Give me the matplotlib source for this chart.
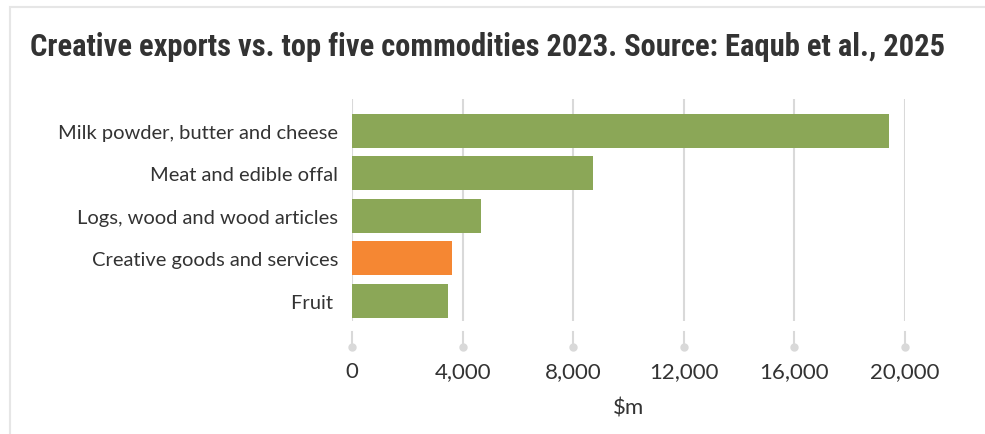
import matplotlib.pyplot as plt
from matplotlib.patches import Rectangle
import matplotlib.transforms as mtransforms

categories = [
    "Milk powder, butter and cheese",
    "Meat and edible offal",
    "Logs, wood and wood articles",
    "Creative goods and services",
    "Fruit ",
]
values = [19420, 8720, 4670, 3620, 3470]
highlight = "Creative goods and services"
x_ticks = [0, 4000, 8000, 12000, 16000, 20000]

GREEN = "#8ba757"
ORANGE = "#f58733"
TEXT = "#333333"
GRID = "#d9d9d9"


def main() -> None:
    plt.rcParams["font.family"] = ["Lato", "DejaVu Sans"]
    fig = plt.figure(figsize=(9.85, 4.35), dpi=100)

    # faint frame like the web card
    fig.patches.append(Rectangle((10 / 985, -0.01), 1.0, 1 - 8 / 435 + 0.01,
                                 transform=fig.transFigure, fill=False,
                                 edgecolor="#e6e6e6", linewidth=1.5))

    fig.text(30 / 985, 1 - 47 / 435,
             "Creative exports vs. top five commodities 2023. Source: Eaqub et al., 2025",
             fontsize=22, fontweight="bold", color=TEXT, va="center",
             family=["Roboto Condensed", "Roboto", "DejaVu Sans"], fontstretch="condensed")

    ax = fig.add_axes([352 / 985, 1 - 322 / 435, (905 - 352) / 985, 222 / 435])
    ys = list(range(len(categories)))
    colors = [ORANGE if c == highlight else GREEN for c in categories]
    ax.barh(ys, values, height=0.8, color=colors, zorder=3)

    ax.set_xlim(0, 20000)
    ax.set_ylim(4.47, -0.75)
    ax.set_yticks(ys)
    ax.set_yticklabels(categories, fontsize=14.5, color=TEXT)
    ax.tick_params(axis="y", length=0, pad=10)

    ax.set_xticks(x_ticks)
    ax.set_xticklabels([f"{t:,}" for t in x_ticks], fontsize=16, color=TEXT)
    ax.tick_params(axis="x", length=0, pad=29)
    ax.grid(axis="x", color=GRID, linewidth=1.5, zorder=0)
    for s in ax.spines.values():
        s.set_visible(False)

    # tick stubs with round ends
    trans = mtransforms.blended_transform_factory(ax.transData, ax.transAxes)
    for t in x_ticks:
        ax.plot([t, t], [-0.05, -0.115], color=GRID, linewidth=1.5,
                transform=trans, clip_on=False)
        ax.plot([t], [-0.115], marker="o", markersize=5, color=GRID,
                transform=trans, clip_on=False)

    ax.set_xlabel("$m", fontsize=16, color=TEXT, labelpad=12)

    fig.savefig("out.png", dpi=100)


if __name__ == "__main__":
    main()
